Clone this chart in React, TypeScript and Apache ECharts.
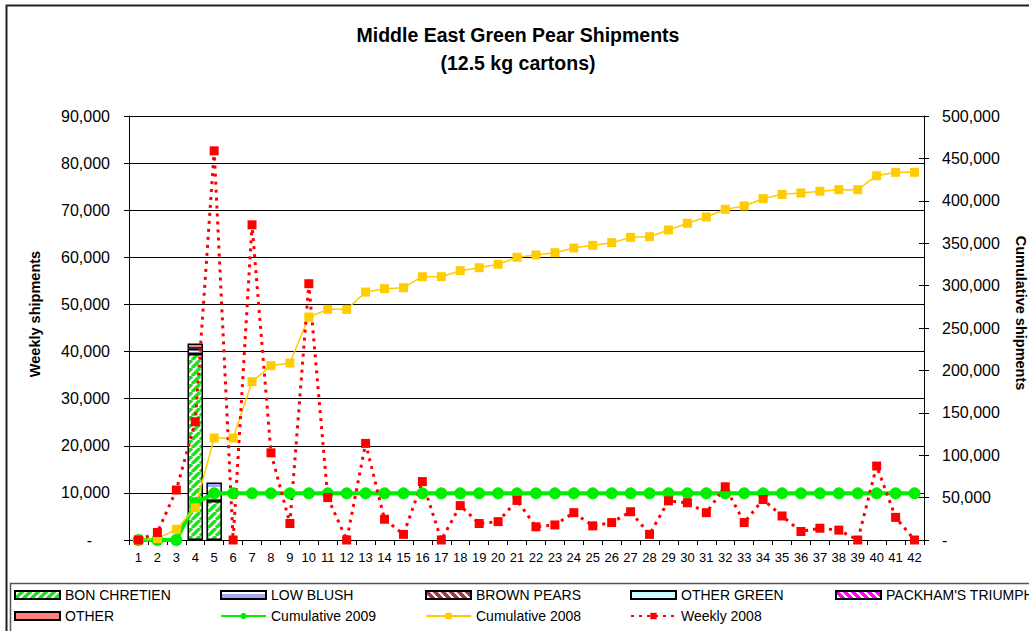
import React, { useEffect, useRef } from 'react';
import * as echarts from 'echarts';

const weeks = ['1', '2', '3', '4', '5', '6', '7', '8', '9', '10', '11', '12', '13', '14', '15', '16', '17', '18', '19', '20', '21', '22', '23', '24', '25', '26', '27', '28', '29', '30', '31', '32', '33', '34', '35', '36', '37', '38', '39', '40', '41', '42'];

const bonChretien = [null, null, null, 39500, 8300];
const lowBlush = [null, null, null, 1100, 3900];
const brownPears: (number | null)[] = [];
const otherGreen: (number | null)[] = [];
const packhams: (number | null)[] = [];
const otherPears = [null, null, null, 1100];

const cumulative2009 = [0, 0, 0, 43500, 55000, 55000, 55000, 55000, 55000, 55000, 55000, 55000, 55000, 55000, 55000, 55000, 55000, 55000, 55000, 55000, 55000, 55000, 55000, 55000, 55000, 55000, 55000, 55000, 55000, 55000, 55000, 55000, 55000, 55000, 55000, 55000, 55000, 55000, 55000, 55000, 55000, 55000];

const cumulative2008 = [0, 1600, 12600, 38100, 120300, 120300, 186700, 205600, 208700, 263000, 272000, 272000, 292400, 296400, 297500, 310500, 310500, 317600, 321100, 325100, 333400, 336100, 338800, 344300, 347500, 350600, 356900, 357700, 365600, 373500, 380900, 390000, 393900, 402500, 407600, 409200, 411200, 413100, 413100, 429600, 433600, 433600];

const weekly2008 = [0, 1600, 10600, 25100, 82600, 0, 66900, 18500, 3500, 54400, 9000, 0, 20500, 4400, 1200, 12400, 0, 7300, 3500, 3900, 8400, 2800, 3200, 5800, 3000, 3700, 6000, 1200, 8300, 7900, 5800, 11300, 3700, 8600, 5100, 1800, 2500, 2100, 0, 15700, 4800, 0];

const leftTicks = { min: 0, max: 90000, interval: 10000 };
const rightTicks = { min: 0, max: 500000, interval: 50000 };

const titleLines = ['Middle East Green Pear Shipments', '(12.5 kg cartons)'];
const leftAxisName = 'Weekly shipments';
const rightAxisName = 'Cumulative shipments';

const FONT = 'Arial, "Liberation Sans", sans-serif';

function diagPattern(bg: string, fg: string, size: number, lw: number, dir: 1 | -1) {
  const c = document.createElement('canvas');
  c.width = size;
  c.height = size;
  const ctx = c.getContext('2d')!;
  ctx.fillStyle = bg;
  ctx.fillRect(0, 0, size, size);
  ctx.strokeStyle = fg;
  ctx.lineWidth = lw;
  for (let k = -1; k <= 1; k++) {
    ctx.beginPath();
    if (dir === 1) {
      ctx.moveTo(k * size, size);
      ctx.lineTo(k * size + size, 0);
    } else {
      ctx.moveTo(k * size, 0);
      ctx.lineTo(k * size + size, size);
    }
    ctx.stroke();
  }
  return { image: c.toDataURL(), repeat: 'repeat', imageWidth: size, imageHeight: size } as any;
}

function hStripePattern(bg: string, fg: string) {
  const c = document.createElement('canvas');
  c.width = 4;
  c.height = 8;
  const ctx = c.getContext('2d')!;
  ctx.fillStyle = bg;
  ctx.fillRect(0, 0, 4, 8);
  ctx.fillStyle = fg;
  ctx.fillRect(0, 3, 4, 4);
  return { image: c.toDataURL(), repeat: 'repeat', imageWidth: 4, imageHeight: 8 } as any;
}

const fmt = (v: number) => v.toLocaleString('en-US');

export default function App() {
  const ref = useRef<HTMLDivElement>(null);
  useEffect(() => {
    document.body.style.margin = '0';
    const chart = echarts.init(ref.current!, null, { renderer: 'svg' });

    const barBorder = { borderColor: '#000', borderWidth: 1.5 };
    const barBase = {
      type: 'bar',
      stack: 'v',
      yAxisIndex: 0,
      barCategoryGap: '18%',
      emphasis: { disabled: true },
    };

    const legendBase = {
      orient: 'vertical',
      top: 587,
      padding: 0,
      itemWidth: 45,
      itemHeight: 8,
      itemGap: 5,
      selectedMode: false,
      textStyle: { fontFamily: FONT, fontSize: 14, color: '#000', lineHeight: 16 },
    };

    const option: any = {
      animation: false,
      backgroundColor: '#fff',
      textStyle: { fontFamily: FONT },
      graphic: [
        { type: 'rect', shape: { x: 6.5, y: 5.5, width: 1100, height: 1000 }, style: { fill: 'none', stroke: '#222', lineWidth: 2 }, z: 100, silent: true },
        { type: 'rect', shape: { x: 10.5, y: 583.5, width: 1100, height: 100 }, style: { fill: 'none', stroke: '#555', lineWidth: 1.5 }, z: 100, silent: true },
        { type: 'text', style: { x: 518, y: 35, text: titleLines[0], textAlign: 'center', textVerticalAlign: 'middle', font: `bold 19.5px ${FONT}`, fill: '#000' } },
        { type: 'text', style: { x: 518, y: 63, text: titleLines[1], textAlign: 'center', textVerticalAlign: 'middle', font: `bold 19.5px ${FONT}`, fill: '#000' } },
        { type: 'text', x: 35, y: 314, rotation: Math.PI / 2, style: { x: 0, y: 0, text: leftAxisName, textAlign: 'center', textVerticalAlign: 'middle', font: `bold 14.5px ${FONT}`, fill: '#000' } },
        { type: 'text', x: 1021, y: 313, rotation: -Math.PI / 2, style: { x: 0, y: 0, text: rightAxisName, textAlign: 'center', textVerticalAlign: 'middle', font: `bold 14.5px ${FONT}`, fill: '#000' } },
      ],
      legend: [
        { ...legendBase, left: 14, data: [{ name: 'BON CHRETIEN', icon: 'rect' }, { name: 'OTHER', icon: 'rect' }] },
        { ...legendBase, left: 220, data: [{ name: 'LOW BLUSH', icon: 'rect' }, { name: 'Cumulative 2009' }] },
        { ...legendBase, left: 425, data: [{ name: 'BROWN PEARS', icon: 'rect' }, { name: 'Cumulative 2008' }] },
        { ...legendBase, left: 630, data: [{ name: 'OTHER GREEN', icon: 'rect' }, { name: 'Weekly 2008' }] },
        { ...legendBase, left: 835, data: [{ name: "PACKHAM'S TRIUMPH", icon: 'rect' }] },
      ],
      grid: { left: 129, right: 105, top: 116, bottom: 91, containLabel: false },
      xAxis: {
        type: 'category',
        data: weeks,
        boundaryGap: true,
        axisLine: { lineStyle: { color: '#000', width: 1 } },
        axisTick: { show: true, interval: 0, length: 5, alignWithLabel: false, lineStyle: { color: '#000' } },
        axisLabel: { interval: 0, fontSize: 13, color: '#000', margin: 11, fontFamily: FONT },
        splitLine: { show: false },
      },
      yAxis: [
        {
          type: 'value',
          position: 'left',
          ...leftTicks,
          axisLine: { show: true, lineStyle: { color: '#000', width: 1 } },
          axisTick: { show: true, length: 5, lineStyle: { color: '#000' } },
          splitLine: { show: true, lineStyle: { color: '#000', width: 1 } },
          axisLabel: {
            fontSize: 16,
            color: '#000',
            margin: 19,
            fontFamily: FONT,
            formatter: (v: number) => (v === 0 ? '{z|-}' : fmt(v)),
            rich: { z: { fontSize: 16, color: '#000', padding: [0, 18, 0, 0], fontFamily: FONT } },
          },
        },
        {
          type: 'value',
          position: 'right',
          ...rightTicks,
          axisLine: { show: true, lineStyle: { color: '#000', width: 1 } },
          axisTick: { show: true, length: 5, lineStyle: { color: '#000' } },
          splitLine: { show: false },
          axisLabel: {
            fontSize: 16,
            color: '#000',
            margin: 18,
            fontFamily: FONT,
            formatter: (v: number) => (v === 0 ? '-' : fmt(v)),
          },
        },
        {
          type: 'value',
          position: 'right',
          ...rightTicks,
          axisLine: { show: false },
          axisTick: { show: true, inside: true, length: 5, lineStyle: { color: '#000' } },
          splitLine: { show: false },
          axisLabel: { show: false },
        },
      ],
      series: [
        { ...barBase, name: 'BON CHRETIEN', data: bonChretien, itemStyle: { color: diagPattern('#ffffff', '#19e619', 8, 3.5, 1), ...barBorder } },
        { ...barBase, name: 'LOW BLUSH', data: lowBlush, itemStyle: { color: hStripePattern('#ffffff', '#a6a6f2'), ...barBorder } },
        { ...barBase, name: 'BROWN PEARS', data: brownPears, itemStyle: { color: diagPattern('#ffffcc', '#993366', 8, 3.5, -1), ...barBorder } },
        { ...barBase, name: 'OTHER GREEN', data: otherGreen, itemStyle: { color: '#ccffff', ...barBorder } },
        { ...barBase, name: "PACKHAM'S TRIUMPH", data: packhams, itemStyle: { color: diagPattern('#ffffff', '#ff00ff', 8, 3.5, -1), ...barBorder } },
        { ...barBase, name: 'OTHER', data: otherPears, itemStyle: { color: '#ff8080', ...barBorder } },
        {
          type: 'line',
          name: 'Cumulative 2009',
          yAxisIndex: 1,
          data: cumulative2009,
          symbol: 'circle',
          symbolSize: 12,
          itemStyle: { color: '#00ee00' },
          lineStyle: { color: '#00ee00', width: 4 },
          emphasis: { disabled: true },
        },
        {
          type: 'line',
          name: 'Cumulative 2008',
          yAxisIndex: 1,
          data: cumulative2008,
          symbol: 'rect',
          symbolSize: 9,
          itemStyle: { color: '#ffcc00' },
          lineStyle: { color: '#ffcc00', width: 1.5 },
          emphasis: { disabled: true },
        },
        {
          type: 'line',
          name: 'Weekly 2008',
          yAxisIndex: 0,
          data: weekly2008,
          symbol: 'rect',
          symbolSize: 9,
          itemStyle: { color: '#ff0000' },
          lineStyle: { color: '#ff0000', width: 3, type: [3, 5] },
          emphasis: { disabled: true },
        },
      ],
    };

    chart.setOption(option);
    return () => chart.dispose();
  }, []);
  return <div ref={ref} style={{ width: 1029, height: 631 }} />;
}
